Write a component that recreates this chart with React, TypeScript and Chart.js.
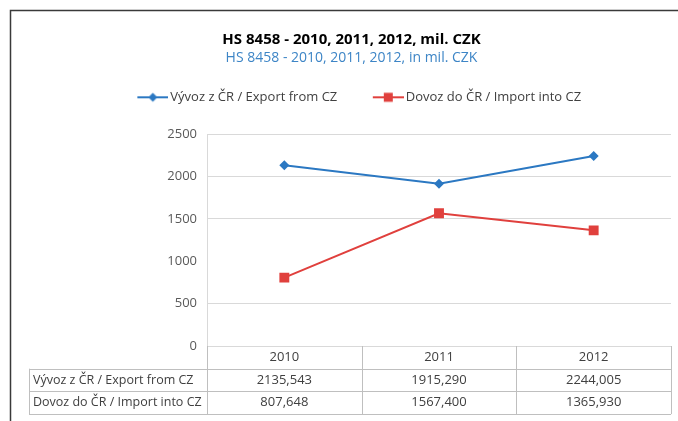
import React, { useEffect, useRef } from "react";
import { Chart, registerables } from "chart.js";

Chart.register(...registerables);

const categories = ["2010", "2011", "2012"];
const exportName = "Vývoz z ČR / Export from CZ";
const importName = "Dovoz do ČR / Import into CZ";
const exportValues = [2135.543, 1915.29, 2244.005];
const importValues = [807.648, 1567.4, 1365.93];
const titleText = "HS 8458 - 2010, 2011, 2012, mil. CZK";
const subtitleText = "HS 8458 - 2010, 2011, 2012, in mil. CZK";
const yMin = 0;
const yMax = 2500;
const yStep = 500;

const BLUE = "#2b78c2";
const RED = "#e0403d";
const FONT = "'Open Sans', sans-serif";
const LEGEND_BOX = 42;

function fmt(v: number) {
  return v.toFixed(3).replace(".", ",");
}

function legendImage(color: string, style: string) {
  const c = document.createElement("canvas");
  const w = LEGEND_BOX + 9;
  c.width = w;
  c.height = 12;
  const g = c.getContext("2d")!;
  g.strokeStyle = color;
  g.lineWidth = 2;
  g.beginPath();
  g.moveTo(w - 31, 6);
  g.lineTo(w, 6);
  g.stroke();
  g.fillStyle = color;
  const cx = w - 15.5;
  if (style === "diamond") {
    g.beginPath();
    g.moveTo(cx, 1.5);
    g.lineTo(cx + 4.5, 6);
    g.lineTo(cx, 10.5);
    g.lineTo(cx - 4.5, 6);
    g.closePath();
    g.fill();
  } else {
    g.fillRect(cx - 4.5, 1.5, 9, 9);
  }
  return c;
}

const tablePlugin = {
  id: "dataTable",
  afterDraw(chart: any) {
    const ctx = chart.ctx;
    const xs = chart.scales.x;
    const area = chart.chartArea;
    const half = (xs.getPixelForValue(1) - xs.getPixelForValue(0)) / 2;
    const edges: number[] = [];
    categories.forEach((_, i) => edges.push(xs.getPixelForValue(i) - half));
    edges.push(xs.getPixelForValue(categories.length - 1) + half);
    const top = area.bottom;
    const rowH = 22.7;
    const labelLeft = 29;
    const r1 = top + rowH;
    const r2 = top + rowH * 2;
    const r3 = top + rowH * 3;
    ctx.save();
    ctx.strokeStyle = "#bfbfbf";
    ctx.lineWidth = 1;
    ctx.beginPath();
    edges.forEach((x) => {
      ctx.moveTo(Math.round(x) + 0.5, top);
      ctx.lineTo(Math.round(x) + 0.5, r3);
    });
    ctx.moveTo(labelLeft + 0.5, r1);
    ctx.lineTo(labelLeft + 0.5, r3);
    [r1, r2, r3].forEach((y) => {
      ctx.moveTo(labelLeft, Math.round(y) + 0.5);
      ctx.lineTo(edges[edges.length - 1], Math.round(y) + 0.5);
    });
    ctx.stroke();

    ctx.fillStyle = "#404040";
    ctx.font = `13px ${FONT}`;
    ctx.textBaseline = "middle";
    ctx.textAlign = "center";
    categories.forEach((c, i) => {
      const x = xs.getPixelForValue(i);
      ctx.fillText(c, x, top + rowH / 2);
      ctx.fillText(fmt(exportValues[i]), x, r1 + rowH / 2);
      ctx.fillText(fmt(importValues[i]), x, r2 + rowH / 2);
    });
    ctx.font = `12.5px ${FONT}`;
    ctx.textAlign = "left";
    ctx.fillText(exportName, labelLeft + 4, r1 + rowH / 2);
    ctx.fillText(importName, labelLeft + 4, r2 + rowH / 2);

    // outer frame
    ctx.strokeStyle = "#3a3a3a";
    ctx.lineWidth = 1.5;
    ctx.beginPath();
    ctx.moveTo(10.5, chart.height);
    ctx.lineTo(10.5, 10.5);
    ctx.lineTo(chart.width, 10.5);
    ctx.stroke();
    ctx.restore();
  },
};

export default function App() {
  const ref = useRef<HTMLCanvasElement | null>(null);

  useEffect(() => {
    document.body.style.margin = "0";
    const canvas = ref.current!;
    const imgs = [legendImage(BLUE, "diamond"), legendImage(RED, "square")];
    const chart = new Chart(canvas, {
      type: "line",
      data: {
        labels: categories,
        datasets: [
          {
            label: exportName,
            data: exportValues,
            borderColor: BLUE,
            backgroundColor: BLUE,
            borderWidth: 2,
            pointStyle: "rectRot",
            pointRadius: 5,
            pointBorderWidth: 0,
          },
          {
            label: importName,
            data: importValues,
            borderColor: RED,
            backgroundColor: RED,
            borderWidth: 2,
            pointStyle: "rect",
            pointRadius: 7,
            pointBorderWidth: 0,
          },
        ],
      },
      options: {
        responsive: false,
        animation: false,
        devicePixelRatio: 1,
        layout: { padding: { left: 29, right: 4, top: 0, bottom: 0 } },
        plugins: {
          title: {
            display: true,
            text: titleText,
            color: "#000000",
            font: { family: FONT, size: 15, weight: "bold" },
            padding: { top: 31, bottom: 0 },
          },
          subtitle: {
            display: true,
            text: subtitleText,
            color: "#3d85c6",
            font: { family: FONT, size: 14 },
            padding: { top: 1, bottom: 4 },
          },
          legend: {
            display: true,
            position: "top",
            labels: {
              color: "#404040",
              font: { family: FONT, size: 13 },
              usePointStyle: true,
              pointStyleWidth: LEGEND_BOX,
              padding: 20,
              generateLabels: (ch: any) =>
                ch.data.datasets.map((d: any, i: number) => ({
                  text: d.label,
                  pointStyle: imgs[i],
                  fillStyle: d.borderColor,
                  strokeStyle: d.borderColor,
                  lineWidth: 0,
                  hidden: false,
                  datasetIndex: i,
                  fontColor: "#404040",
                })),
            },
          },
          tooltip: { enabled: false },
        },
        scales: {
          x: {
            type: "category",
            offset: true,
            position: "bottom",
            grid: { display: false },
            border: { display: false },
            ticks: { display: false },
            afterFit: (s: any) => {
              s.height = 75;
            },
          },
          xTop: {
            type: "category",
            position: "top",
            labels: categories,
            grid: { display: false },
            border: { display: false },
            ticks: { display: false },
            afterFit: (s: any) => {
              s.height = 20.5;
            },
          },
          y: {
            min: yMin,
            max: yMax,
            ticks: {
              stepSize: yStep,
              color: "#595959",
              font: { family: FONT, size: 13 },
              padding: 10,
              callback: (v: any) => String(v),
            },
            grid: {
              drawTicks: false,
              color: (c: any) => (c.tick && c.tick.value === 1000 ? "rgba(0,0,0,0)" : "#d9d9d9"),
            },
            border: { display: true, color: "#d9d9d9" },
            afterFit: (s: any) => {
              s.width = 207 - 29;
            },
          },
        },
      } as any,
      plugins: [tablePlugin],
    });
    return () => chart.destroy();
  }, []);

  return (
    <div style={{ width: 678, height: 421 }}>
      <canvas ref={ref} width={678} height={421} style={{ width: 678, height: 421, display: "block" }} />
    </div>
  );
}
